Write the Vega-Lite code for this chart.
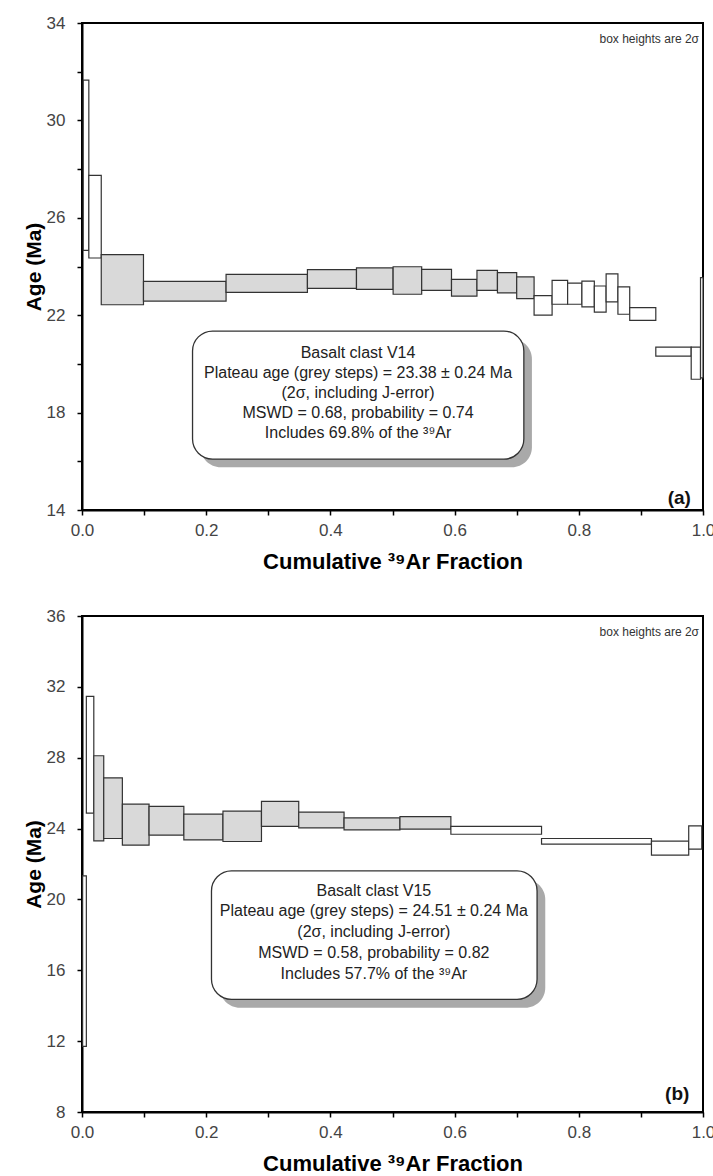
{
  "$schema": "https://vega.github.io/schema/vega-lite/v6.json",
  "padding": {"left": 22, "top": 13, "right": 0, "bottom": 0},
  "spacing": 33,
  "background": "white",
  "config": {
    "font": "Liberation Sans",
    "view": {"stroke": "#000", "strokeWidth": 2},
    "axis": {
      "grid": false, "domainColor": "#000", "domainWidth": 2,
      "tickColor": "#000", "tickWidth": 1.5, "tickSize": 5,
      "labelFont": "Liberation Sans", "labelFontSize": 17, "labelColor": "#444",
      "labelOverlap": false, "labelFlush": false,
      "titleFont": "Liberation Sans", "titleFontSize": 21, "titleFontWeight": "bold", "titleColor": "#000"
    },
    "axisX": {"labelPadding": 7, "titlePadding": 13, "titleFontSize": 22},
    "axisY": {"labelPadding": 12, "titlePadding": 2}
  },
  "datasets": {
    "v14": [
      {"x1": 0.002, "x2": 0.011, "lo": 24.66, "hi": 31.65, "step": "other"},
      {"x1": 0.011, "x2": 0.031, "lo": 24.35, "hi": 27.74, "step": "other"},
      {"x1": 0.031, "x2": 0.099, "lo": 22.43, "hi": 24.49, "step": "plateau"},
      {"x1": 0.099, "x2": 0.232, "lo": 22.58, "hi": 23.39, "step": "plateau"},
      {"x1": 0.232, "x2": 0.363, "lo": 22.94, "hi": 23.68, "step": "plateau"},
      {"x1": 0.363, "x2": 0.442, "lo": 23.10, "hi": 23.87, "step": "plateau"},
      {"x1": 0.442, "x2": 0.501, "lo": 23.06, "hi": 23.94, "step": "plateau"},
      {"x1": 0.501, "x2": 0.547, "lo": 22.86, "hi": 23.99, "step": "plateau"},
      {"x1": 0.547, "x2": 0.595, "lo": 23.02, "hi": 23.88, "step": "plateau"},
      {"x1": 0.595, "x2": 0.636, "lo": 22.78, "hi": 23.47, "step": "plateau"},
      {"x1": 0.636, "x2": 0.669, "lo": 23.02, "hi": 23.84, "step": "plateau"},
      {"x1": 0.669, "x2": 0.700, "lo": 22.92, "hi": 23.75, "step": "plateau"},
      {"x1": 0.700, "x2": 0.728, "lo": 22.68, "hi": 23.57, "step": "plateau"},
      {"x1": 0.728, "x2": 0.757, "lo": 22.00, "hi": 22.80, "step": "other"},
      {"x1": 0.757, "x2": 0.782, "lo": 22.45, "hi": 23.43, "step": "other"},
      {"x1": 0.782, "x2": 0.805, "lo": 22.45, "hi": 23.32, "step": "other"},
      {"x1": 0.805, "x2": 0.825, "lo": 22.34, "hi": 23.40, "step": "other"},
      {"x1": 0.825, "x2": 0.844, "lo": 22.13, "hi": 23.20, "step": "other"},
      {"x1": 0.844, "x2": 0.863, "lo": 22.55, "hi": 23.70, "step": "other"},
      {"x1": 0.863, "x2": 0.882, "lo": 22.04, "hi": 23.16, "step": "other"},
      {"x1": 0.882, "x2": 0.924, "lo": 21.79, "hi": 22.31, "step": "other"},
      {"x1": 0.924, "x2": 0.981, "lo": 20.32, "hi": 20.69, "step": "other"},
      {"x1": 0.981, "x2": 0.996, "lo": 19.37, "hi": 20.69, "step": "other"},
      {"x1": 0.996, "x2": 1.000, "lo": 19.43, "hi": 23.54, "step": "other"}
    ],
    "v15": [
      {"x1": 0.001, "x2": 0.007, "lo": 11.70, "hi": 21.33, "step": "other"},
      {"x1": 0.007, "x2": 0.019, "lo": 24.87, "hi": 31.46, "step": "other"},
      {"x1": 0.019, "x2": 0.035, "lo": 23.31, "hi": 28.11, "step": "plateau"},
      {"x1": 0.035, "x2": 0.065, "lo": 23.44, "hi": 26.86, "step": "plateau"},
      {"x1": 0.065, "x2": 0.108, "lo": 23.06, "hi": 25.38, "step": "plateau"},
      {"x1": 0.108, "x2": 0.164, "lo": 23.63, "hi": 25.25, "step": "plateau"},
      {"x1": 0.164, "x2": 0.227, "lo": 23.36, "hi": 24.81, "step": "plateau"},
      {"x1": 0.227, "x2": 0.289, "lo": 23.27, "hi": 24.98, "step": "plateau"},
      {"x1": 0.289, "x2": 0.349, "lo": 24.12, "hi": 25.53, "step": "plateau"},
      {"x1": 0.349, "x2": 0.422, "lo": 24.04, "hi": 24.93, "step": "plateau"},
      {"x1": 0.422, "x2": 0.512, "lo": 23.93, "hi": 24.60, "step": "plateau"},
      {"x1": 0.512, "x2": 0.594, "lo": 23.97, "hi": 24.68, "step": "plateau"},
      {"x1": 0.594, "x2": 0.740, "lo": 23.68, "hi": 24.12, "step": "other"},
      {"x1": 0.740, "x2": 0.917, "lo": 23.12, "hi": 23.44, "step": "other"},
      {"x1": 0.917, "x2": 0.977, "lo": 22.50, "hi": 23.29, "step": "other"},
      {"x1": 0.977, "x2": 0.998, "lo": 22.84, "hi": 24.15, "step": "other"}
    ],
    "box14": [
      {"x1": 0.191, "x2": 0.7245, "y1": 15.76, "y2": 21.02, "kind": "shadow"},
      {"x1": 0.178, "x2": 0.7115, "y1": 16.09, "y2": 21.35, "kind": "box"}
    ],
    "box15": [
      {"x1": 0.222, "x2": 0.746, "y1": 13.88, "y2": 21.13, "kind": "shadow"},
      {"x1": 0.2085, "x2": 0.7328, "y1": 14.36, "y2": 21.61, "kind": "box"}
    ],
    "text14": [
      {"x": 0.4445, "y": 20.45, "label": "Basalt clast V14"},
      {"x": 0.4445, "y": 19.63, "label": "Plateau age (grey steps) = 23.38 ± 0.24 Ma"},
      {"x": 0.4445, "y": 18.80, "label": "(2σ, including J-error)"},
      {"x": 0.4445, "y": 17.98, "label": "MSWD = 0.68, probability = 0.74"},
      {"x": 0.4445, "y": 17.16, "label": "Includes 69.8% of the ³⁹Ar"}
    ],
    "text15": [
      {"x": 0.47, "y": 20.48, "label": "Basalt clast V15"},
      {"x": 0.47, "y": 19.35, "label": "Plateau age (grey steps) = 24.51 ± 0.24 Ma"},
      {"x": 0.47, "y": 18.16, "label": "(2σ, including J-error)"},
      {"x": 0.47, "y": 16.96, "label": "MSWD = 0.58, probability = 0.82"},
      {"x": 0.47, "y": 15.77, "label": "Includes 57.7% of the ³⁹Ar"}
    ],
    "notes14": [
      {"x": 0.9935, "y": 33.34, "label": "box heights are 2σ", "kind": "note"},
      {"x": 0.9805, "y": 14.5, "label": "(a)", "kind": "panel"}
    ],
    "notes15": [
      {"x": 0.9936, "y": 35.10, "label": "box heights are 2σ", "kind": "note"},
      {"x": 0.978, "y": 9.0, "label": "(b)", "kind": "panel"}
    ]
  },
  "vconcat": [
    {
      "width": 621,
      "height": 487,
      "layer": [
        {
          "data": {"name": "v14"},
          "mark": {"type": "rect", "stroke": "#333", "strokeWidth": 1.2},
          "encoding": {
            "x": {"field": "x1", "type": "quantitative", "title": "Cumulative ³⁹Ar Fraction",
                  "scale": {"domain": [0, 1], "nice": false},
                  "axis": {"values": [0, 0.1, 0.2, 0.3, 0.4, 0.5, 0.6, 0.7, 0.8, 0.9, 1.0],
                           "labelExpr": "round(datum.value*10) % 2 == 0 ? format(datum.value, '.1f') : ''"}},
            "x2": {"field": "x2"},
            "y": {"field": "hi", "type": "quantitative", "title": "Age (Ma)",
                  "scale": {"domain": [14, 34], "nice": false, "zero": false},
                  "axis": {"values": [14, 16, 18, 20, 22, 24, 26, 28, 30, 32, 34],
                           "labelExpr": "(datum.value - 14) % 4 == 0 ? datum.label : ''"}},
            "y2": {"field": "lo"},
            "fill": {"field": "step", "type": "nominal",
                     "scale": {"domain": ["plateau", "other"], "range": ["#d9d9d9", "#ffffff"]},
                     "legend": null}
          }
        },
        {
          "data": {"name": "box14"},
          "transform": [{"filter": "datum.kind == 'shadow'"}],
          "mark": {"type": "rect", "fill": "#a9a9a9", "cornerRadius": 20},
          "encoding": {
            "x": {"field": "x1", "type": "quantitative", "title": "Cumulative ³⁹Ar Fraction"},
            "x2": {"field": "x2"},
            "y": {"field": "y2", "type": "quantitative", "title": "Age (Ma)"},
            "y2": {"field": "y1"}
          }
        },
        {
          "data": {"name": "box14"},
          "transform": [{"filter": "datum.kind == 'box'"}],
          "mark": {"type": "rect", "fill": "#ffffff", "stroke": "#333", "strokeWidth": 1.3, "cornerRadius": 20},
          "encoding": {
            "x": {"field": "x1", "type": "quantitative", "title": "Cumulative ³⁹Ar Fraction"},
            "x2": {"field": "x2"},
            "y": {"field": "y2", "type": "quantitative", "title": "Age (Ma)"},
            "y2": {"field": "y1"}
          }
        },
        {
          "data": {"name": "text14"},
          "mark": {"type": "text", "fontSize": 16, "color": "#222", "align": "center", "baseline": "middle"},
          "encoding": {
            "x": {"field": "x", "type": "quantitative", "title": "Cumulative ³⁹Ar Fraction"},
            "y": {"field": "y", "type": "quantitative", "title": "Age (Ma)"},
            "text": {"field": "label"}
          }
        },
        {
          "data": {"name": "notes14"},
          "transform": [{"filter": "datum.kind == 'note'"}],
          "mark": {"type": "text", "fontSize": 12, "color": "#333", "align": "right", "baseline": "middle"},
          "encoding": {
            "x": {"field": "x", "type": "quantitative", "title": "Cumulative ³⁹Ar Fraction"},
            "y": {"field": "y", "type": "quantitative", "title": "Age (Ma)"},
            "text": {"field": "label"}
          }
        },
        {
          "data": {"name": "notes14"},
          "transform": [{"filter": "datum.kind == 'panel'"}],
          "mark": {"type": "text", "fontSize": 19, "fontWeight": "bold", "color": "#111", "align": "right", "baseline": "middle"},
          "encoding": {
            "x": {"field": "x", "type": "quantitative", "title": "Cumulative ³⁹Ar Fraction"},
            "y": {"field": "y", "type": "quantitative", "title": "Age (Ma)"},
            "text": {"field": "label"}
          }
        }
      ]
    },
    {
      "width": 621,
      "height": 496,
      "layer": [
        {
          "data": {"name": "v15"},
          "mark": {"type": "rect", "stroke": "#333", "strokeWidth": 1.2},
          "encoding": {
            "x": {"field": "x1", "type": "quantitative", "title": "Cumulative ³⁹Ar Fraction",
                  "scale": {"domain": [0, 1], "nice": false},
                  "axis": {"values": [0, 0.1, 0.2, 0.3, 0.4, 0.5, 0.6, 0.7, 0.8, 0.9, 1.0],
                           "labelExpr": "round(datum.value*10) % 2 == 0 ? format(datum.value, '.1f') : ''"}},
            "x2": {"field": "x2"},
            "y": {"field": "hi", "type": "quantitative", "title": "Age (Ma)",
                  "scale": {"domain": [8, 36], "nice": false, "zero": false},
                  "axis": {"values": [8, 10, 12, 14, 16, 18, 20, 22, 24, 26, 28, 30, 32, 34, 36],
                           "labelExpr": "datum.value % 4 == 0 ? datum.label : ''"}},
            "y2": {"field": "lo"},
            "fill": {"field": "step", "type": "nominal",
                     "scale": {"domain": ["plateau", "other"], "range": ["#d9d9d9", "#ffffff"]},
                     "legend": null}
          }
        },
        {
          "data": {"name": "box15"},
          "transform": [{"filter": "datum.kind == 'shadow'"}],
          "mark": {"type": "rect", "fill": "#a9a9a9", "cornerRadius": 20},
          "encoding": {
            "x": {"field": "x1", "type": "quantitative", "title": "Cumulative ³⁹Ar Fraction"},
            "x2": {"field": "x2"},
            "y": {"field": "y2", "type": "quantitative", "title": "Age (Ma)"},
            "y2": {"field": "y1"}
          }
        },
        {
          "data": {"name": "box15"},
          "transform": [{"filter": "datum.kind == 'box'"}],
          "mark": {"type": "rect", "fill": "#ffffff", "stroke": "#333", "strokeWidth": 1.3, "cornerRadius": 20},
          "encoding": {
            "x": {"field": "x1", "type": "quantitative", "title": "Cumulative ³⁹Ar Fraction"},
            "x2": {"field": "x2"},
            "y": {"field": "y2", "type": "quantitative", "title": "Age (Ma)"},
            "y2": {"field": "y1"}
          }
        },
        {
          "data": {"name": "text15"},
          "mark": {"type": "text", "fontSize": 16, "color": "#222", "align": "center", "baseline": "middle"},
          "encoding": {
            "x": {"field": "x", "type": "quantitative", "title": "Cumulative ³⁹Ar Fraction"},
            "y": {"field": "y", "type": "quantitative", "title": "Age (Ma)"},
            "text": {"field": "label"}
          }
        },
        {
          "data": {"name": "notes15"},
          "transform": [{"filter": "datum.kind == 'note'"}],
          "mark": {"type": "text", "fontSize": 12, "color": "#333", "align": "right", "baseline": "middle"},
          "encoding": {
            "x": {"field": "x", "type": "quantitative", "title": "Cumulative ³⁹Ar Fraction"},
            "y": {"field": "y", "type": "quantitative", "title": "Age (Ma)"},
            "text": {"field": "label"}
          }
        },
        {
          "data": {"name": "notes15"},
          "transform": [{"filter": "datum.kind == 'panel'"}],
          "mark": {"type": "text", "fontSize": 19, "fontWeight": "bold", "color": "#111", "align": "right", "baseline": "middle"},
          "encoding": {
            "x": {"field": "x", "type": "quantitative", "title": "Cumulative ³⁹Ar Fraction"},
            "y": {"field": "y", "type": "quantitative", "title": "Age (Ma)"},
            "text": {"field": "label"}
          }
        }
      ]
    }
  ]
}
